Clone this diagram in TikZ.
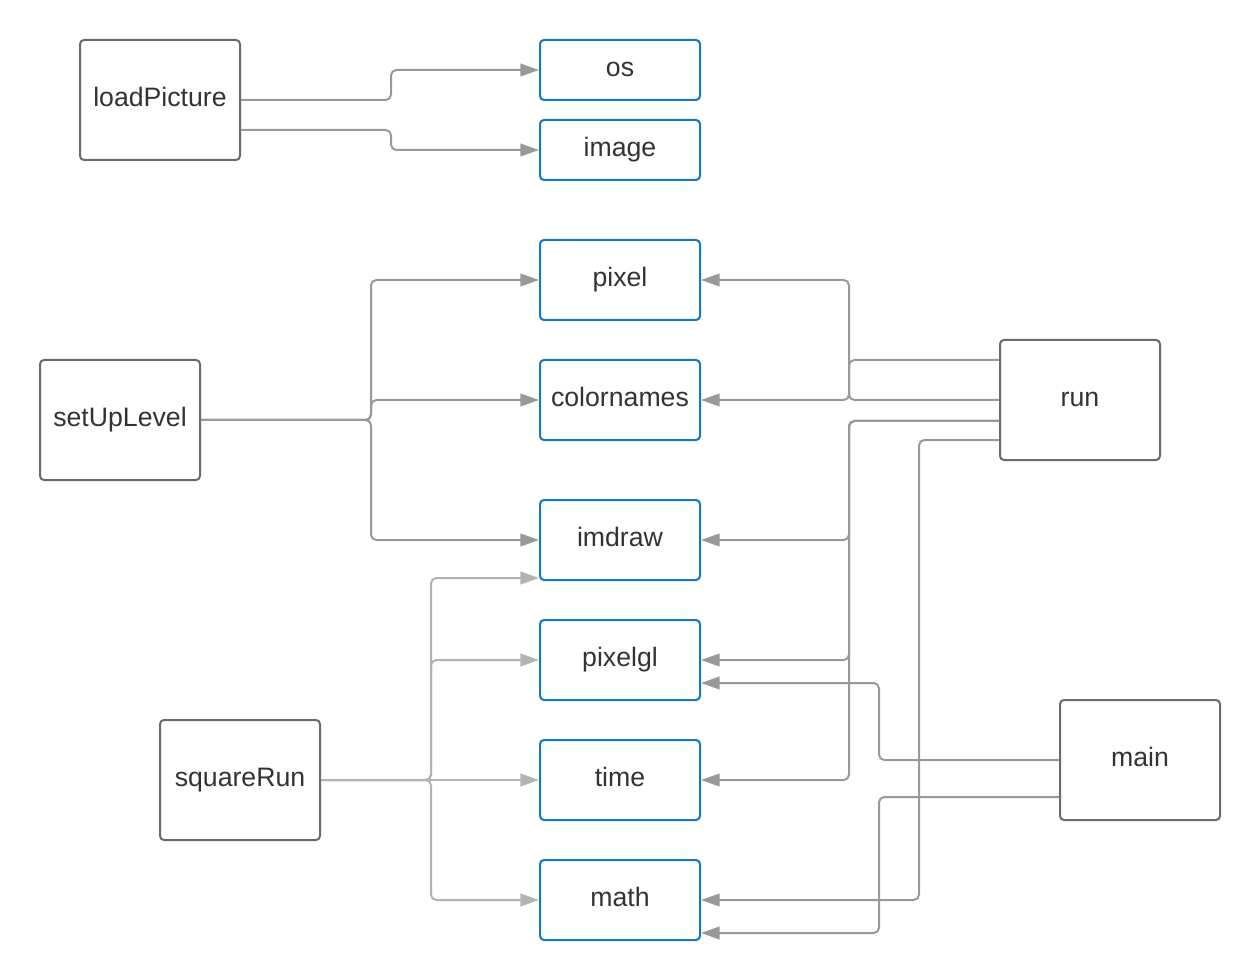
\documentclass[tikz,border=0pt]{standalone}
\usepackage{fontspec}
\setmainfont{Liberation Sans}
\usetikzlibrary{arrows.meta}
\definecolor{srcgray}{HTML}{6B6B6B}
\definecolor{modblue}{HTML}{1478C4}
\definecolor{conngray}{HTML}{999999}
\definecolor{lightconn}{HTML}{B3B3B3}
\definecolor{textgray}{HTML}{333333}
\begin{document}
\begin{tikzpicture}[x=0.75pt,y=-0.75pt,
  srcbox/.style={draw=srcgray, line width=1.5pt, rounded corners=3pt,
    minimum width=120pt, minimum height=90pt, inner sep=0pt,
    text height=14.5pt, text depth=4.2pt,
    font=\fontsize{20}{24}\selectfont, text=textgray},
  modbox/.style={srcbox, draw=modblue, minimum height=60pt},
  smallmod/.style={modbox, minimum height=45pt},
  conn/.style={draw=conngray, line width=1.5pt, rounded corners=4pt,
    -{Triangle[length=14pt,width=9.5pt]}},
  lconn/.style={conn, draw=lightconn}]
\useasboundingbox (0,0) rectangle (1260,980);
% sources
\node[srcbox] (loadPicture) at (160,100) {loadPicture};
\node[srcbox] (setUpLevel) at (120,420) {setUpLevel};
\node[srcbox] (squareRun) at (240,780) {squareRun};
\node[srcbox] (run) at (1080,400) {run};
\node[srcbox] (main) at (1140,760) {main};
% modules
\node[smallmod] (os) at (620,70) {os};
\node[smallmod] (image) at (620,150) {image};
\node[modbox] (pixel) at (620,280) {pixel};
\node[modbox] (colornames) at (620,400) {colornames};
\node[modbox] (imdraw) at (620,540) {imdraw};
\node[modbox] (pixelgl) at (620,660) {pixelgl};
\node[modbox] (time) at (620,780) {time};
\node[modbox] (math) at (620,900) {math};
% loadPicture
\draw[conn] (loadPicture.east) -- ++(150,0) |- (os.west);
\draw[conn] ([yshift=-22.5pt]loadPicture.east) -- ++(150,0) |- (image.west);
% setUpLevel
\draw[conn] (setUpLevel.east) -- ++(170,0) |- (pixel.west);
\draw[conn] (setUpLevel.east) -- ++(170,0) |- (colornames.west);
\draw[conn] (setUpLevel.east) -- ++(170,0) |- (imdraw.west);
% squareRun
\draw[lconn] (squareRun.east) -- ++(110,0) |- ([yshift=-28.5pt]imdraw.west);
\draw[lconn] (squareRun.east) -- ++(110,0) |- (pixelgl.west);
\draw[lconn] (squareRun.east) -- (time.west);
\draw[lconn] (squareRun.east) -- ++(110,0) |- (math.west);
% run
\draw[conn] (run.west) -- ++(-150,0) |- (pixel.east);
\draw[conn] ([yshift=30pt]run.west) -- ++(-150,0) |- (colornames.east);
\draw[conn] ([yshift=-15.75pt]run.west) -- ++(-150,0) |- (imdraw.east);
\draw[conn] ([yshift=-15.75pt]run.west) -- ++(-150,0) |- (pixelgl.east);
\draw[conn] ([yshift=-15.75pt]run.west) -- ++(-150,0) |- (time.east);
\draw[conn] ([yshift=-30pt]run.west) -- ++(-80,0) |- (math.east);
% main
\draw[conn] (main.west) -- ++(-180,0) |- ([yshift=-17.25pt]pixelgl.east);
\draw[conn] ([yshift=-27.75pt]main.west) -- ++(-180,0) |- ([yshift=-24.75pt]math.east);
\end{tikzpicture}
\end{document}
